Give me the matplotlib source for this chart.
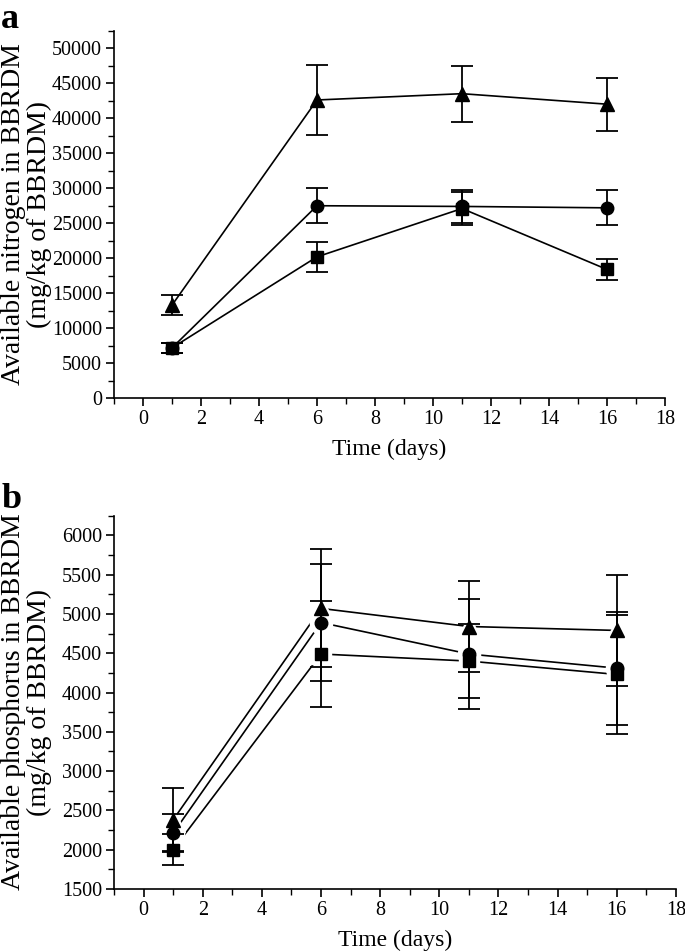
import numpy as np
import matplotlib
matplotlib.use('Agg')
import matplotlib.pyplot as plt
from matplotlib.ticker import MultipleLocator

plt.rcParams['font.family'] = ['Liberation Serif', 'DejaVu Serif']

# ---- data ----
days = [1, 6, 11, 16]

# panel a: available nitrogen (mg/kg of BBRDM)
n_tri = [13300, 42600, 43500, 42000]
n_tri_err = [1400, 5000, 4000, 3800]
n_circ = [7200, 27500, 27400, 27200]
n_circ_err = [700, 2500, 2400, 2500]
n_sq = [7200, 20200, 27100, 18400]
n_sq_err = [700, 2150, 2400, 1500]

# panel b: available phosphorus (mg/kg of BBRDM)
p_tri = [2380, 5070, 4840, 4790]
p_tri_err = [400, 750, 580, 710]
p_circ = [2210, 4890, 4490, 4310]
p_circ_err = [240, 740, 700, 720]
p_sq = [2000, 4490, 4400, 4230]
p_sq_err = [200, 670, 470, 760]

markers = {'tri': ('^', 10), 'circ': ('o', 9), 'sq': ('s', 8)}


def draw_panel(ax, series, halo):
    for key, y, err in series:
        ax.plot(days, y, '-', color='black', lw=1.2, zorder=1)
    if halo > 0:
        # white halo so the lines stop short of the markers
        for key, y, err in series:
            m, ms = markers[key]
            ax.plot(days, y, linestyle='none', marker=m, ms=ms + halo,
                    color='white', zorder=2)
    for key, y, err in series:
        m, ms = markers[key]
        ax.errorbar(days, y, yerr=err, fmt='none', ecolor='black',
                    elinewidth=1.3, capsize=8, capthick=1.3, zorder=3)
        ax.plot(days, y, linestyle='none', marker=m, ms=ms,
                color='black', zorder=4)

    for s in ['top', 'right']:
        ax.spines[s].set_visible(False)
    for s in ['left', 'bottom']:
        ax.spines[s].set_linewidth(1.2)
    ax.set_xlim(-1, 18)
    ax.xaxis.set_major_locator(MultipleLocator(2))
    ax.xaxis.set_minor_locator(MultipleLocator(1))
    ax.tick_params(which='major', direction='out', length=6, width=1.2,
                   labelsize=14.5, pad=2.5)
    ax.tick_params(which='minor', direction='out', length=4, width=1.0)
    ax.set_xlabel('Time (days)', fontsize=17, labelpad=7)


fig = plt.figure(figsize=(6.85, 9.52), dpi=100)

ax1 = fig.add_axes([0.1664, 0.5816, 0.8044, 0.3862])
draw_panel(ax1, [('tri', n_tri, n_tri_err),
                 ('circ', n_circ, n_circ_err),
                 ('sq', n_sq, n_sq_err)], halo=0)
ax1.set_ylim(0, 52500)
ax1.yaxis.set_major_locator(MultipleLocator(5000))
ax1.yaxis.set_minor_locator(MultipleLocator(2500))

ax2 = fig.add_axes([0.1664, 0.0662, 0.8204, 0.3921])
draw_panel(ax2, [('tri', p_tri, p_tri_err),
                 ('circ', p_circ, p_circ_err),
                 ('sq', p_sq, p_sq_err)], halo=7)
ax2.set_ylim(1500, 6250)
ax2.yaxis.set_major_locator(MultipleLocator(500))
ax2.yaxis.set_minor_locator(MultipleLocator(250))

# y labels (two lines, like the original)
fig.text(0.020, 1 - 214 / 952, 'Available nitrogen in BBRDM', rotation=90,
         ha='center', va='center', fontsize=20)
fig.text(0.057, 1 - 214 / 952, '(mg/kg of BBRDM)', rotation=90,
         ha='center', va='center', fontsize=20)
fig.text(0.020, 1 - 702 / 952, 'Available phosphorus in BBRDM', rotation=90,
         ha='center', va='center', fontsize=20)
fig.text(0.057, 1 - 702 / 952, '(mg/kg of BBRDM)', rotation=90,
         ha='center', va='center', fontsize=20)

# panel letters
fig.text(0.002, 0.997, 'a', fontsize=26, fontweight='bold', va='top', ha='left')
fig.text(0.002, 1 - 483 / 952, 'b', fontsize=26, fontweight='bold', va='top', ha='left')

fig.savefig('out.png', dpi=100)
